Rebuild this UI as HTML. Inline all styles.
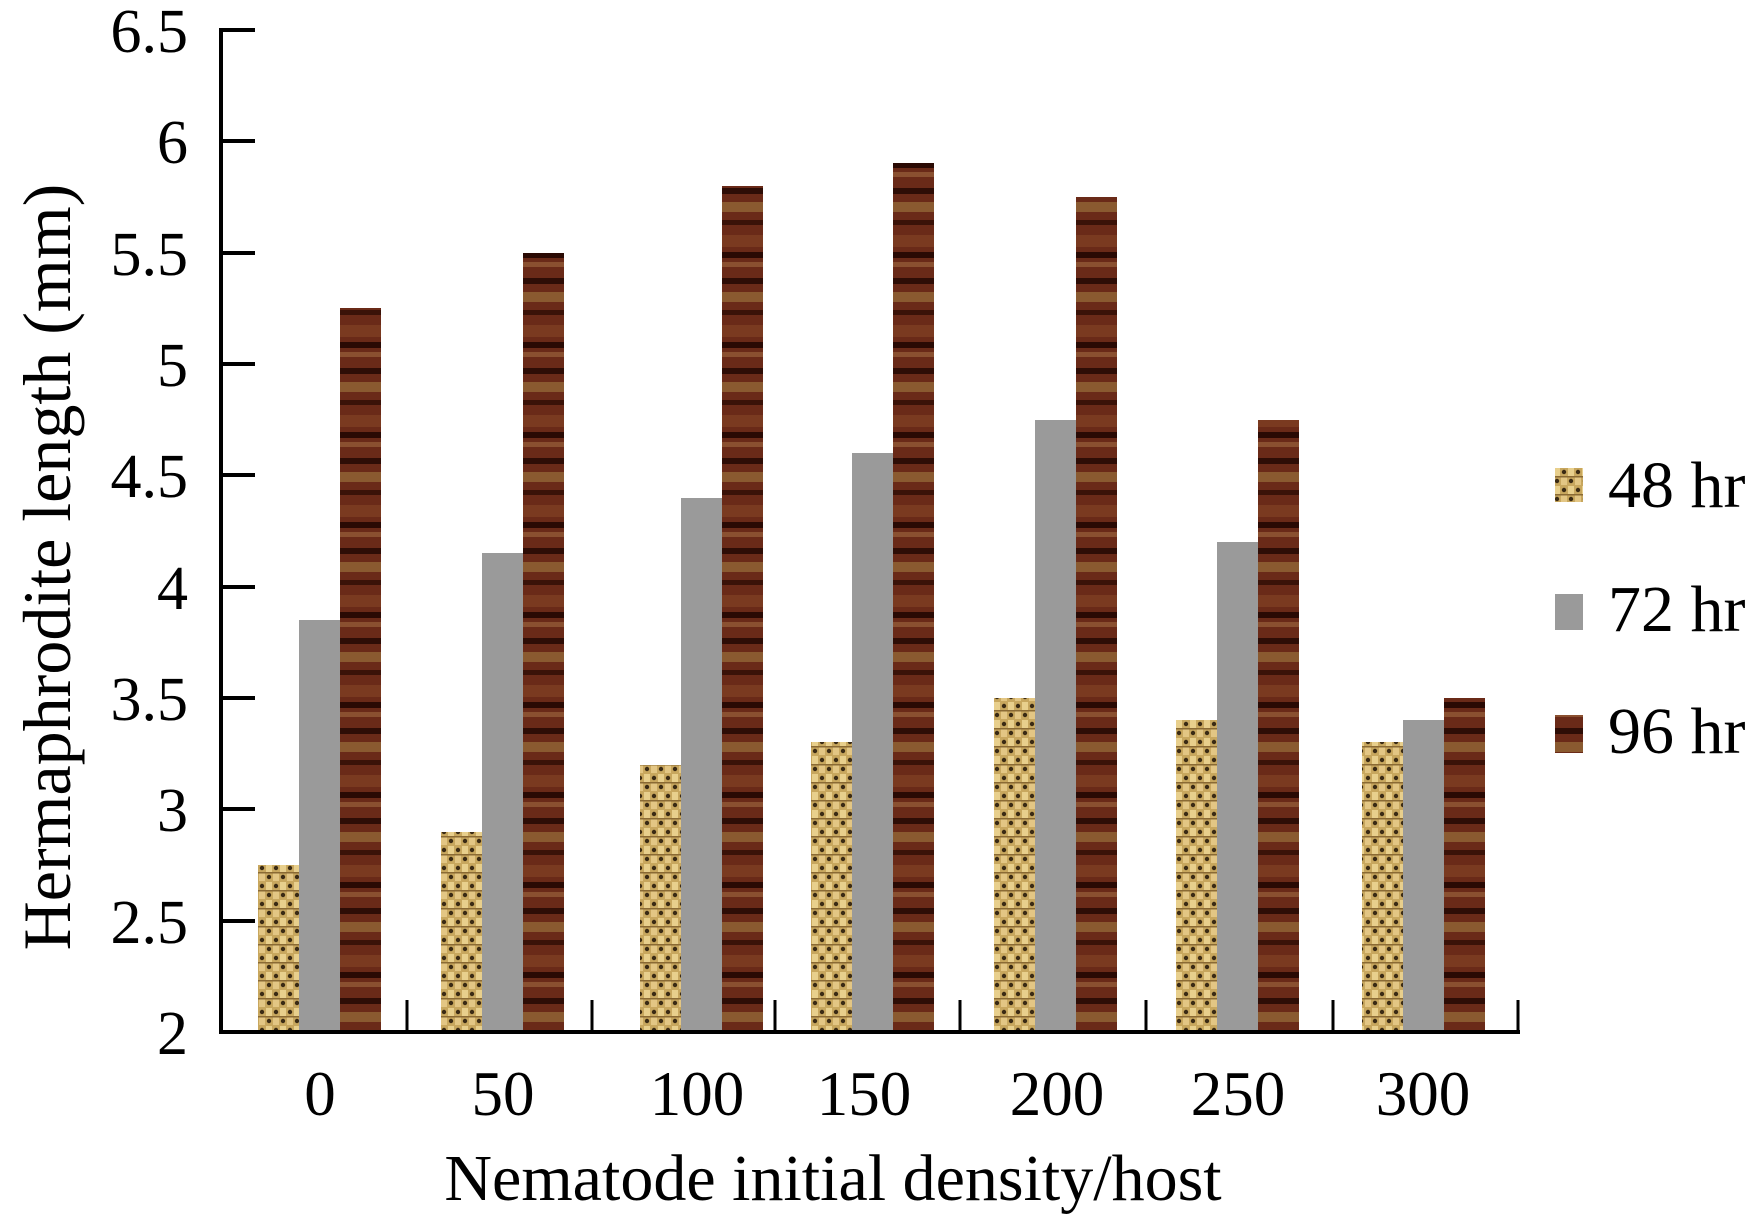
<!DOCTYPE html>
<html><head><meta charset="utf-8"><style>
body{margin:0;background:#fff}
svg text{font-family:"Liberation Serif",serif;fill:#000}
</style></head><body>
<svg width="1761" height="1218" viewBox="0 0 1761 1218" xmlns="http://www.w3.org/2000/svg">
<defs>
<pattern id="gold" width="14" height="18" patternUnits="userSpaceOnUse">
<rect width="14" height="18" fill="#c8a75e"/>
<rect x="0" y="0" width="6" height="8" fill="#e8cf8c"/>
<rect x="7" y="9" width="6" height="8" fill="#e3c684"/>
<circle cx="10" cy="4" r="2.2" fill="#3a2a14"/>
<circle cx="3" cy="13" r="2.2" fill="#3a2a14"/>
<rect x="0" y="8" width="14" height="1.5" fill="#8a6a34"/>
</pattern>
<pattern id="wood" width="41" height="90" patternUnits="userSpaceOnUse">
<rect width="41" height="90" fill="#6a2a18"/>
<rect y="8" width="41" height="6" fill="#2e0d06"/>
<rect y="22" width="41" height="10" fill="#8a5a30"/>
<rect y="40" width="41" height="5" fill="#3a1208"/>
<rect y="55" width="41" height="12" fill="#7a3a20"/>
<rect y="72" width="41" height="6" fill="#2a0a04"/>
<rect y="82" width="41" height="5" fill="#8a5030"/>
</pattern>
</defs>
<g>
<rect x="258" y="865" width="41" height="167" fill="url(#gold)"/>
<rect x="299" y="620" width="41" height="412" fill="#9a9a9a"/>
<rect x="340" y="308" width="41" height="724" fill="url(#wood)"/>
<rect x="441" y="832" width="41" height="200" fill="url(#gold)"/>
<rect x="482" y="553" width="41" height="479" fill="#9a9a9a"/>
<rect x="523" y="253" width="41" height="779" fill="url(#wood)"/>
<rect x="640" y="765" width="41" height="267" fill="url(#gold)"/>
<rect x="681" y="498" width="41" height="534" fill="#9a9a9a"/>
<rect x="722" y="186" width="41" height="846" fill="url(#wood)"/>
<rect x="811" y="742" width="41" height="290" fill="url(#gold)"/>
<rect x="852" y="453" width="41" height="579" fill="#9a9a9a"/>
<rect x="893" y="163" width="41" height="869" fill="url(#wood)"/>
<rect x="994" y="698" width="41" height="334" fill="url(#gold)"/>
<rect x="1035" y="420" width="41" height="612" fill="#9a9a9a"/>
<rect x="1076" y="197" width="41" height="835" fill="url(#wood)"/>
<rect x="1176" y="720" width="41" height="312" fill="url(#gold)"/>
<rect x="1217" y="542" width="41" height="490" fill="#9a9a9a"/>
<rect x="1258" y="420" width="41" height="612" fill="url(#wood)"/>
<rect x="1362" y="742" width="41" height="290" fill="url(#gold)"/>
<rect x="1403" y="720" width="41" height="312" fill="#9a9a9a"/>
<rect x="1444" y="698" width="41" height="334" fill="url(#wood)"/>
</g>
<g stroke="#000" stroke-width="4" fill="none">
<line x1="221" y1="28" x2="221" y2="1034"/>
<line x1="219" y1="1032" x2="1520" y2="1032"/>
<line x1="221" y1="30" x2="255" y2="30"/>
<line x1="221" y1="141" x2="255" y2="141"/>
<line x1="221" y1="253" x2="255" y2="253"/>
<line x1="221" y1="364" x2="255" y2="364"/>
<line x1="221" y1="475" x2="255" y2="475"/>
<line x1="221" y1="587" x2="255" y2="587"/>
<line x1="221" y1="698" x2="255" y2="698"/>
<line x1="221" y1="809" x2="255" y2="809"/>
<line x1="221" y1="921" x2="255" y2="921"/>
</g>
<g stroke="#000" stroke-width="3">
<line x1="407" y1="1000" x2="407" y2="1032"/>
<line x1="592" y1="1000" x2="592" y2="1032"/>
<line x1="775" y1="1000" x2="775" y2="1032"/>
<line x1="960" y1="1000" x2="960" y2="1032"/>
<line x1="1146" y1="1000" x2="1146" y2="1032"/>
<line x1="1333" y1="1000" x2="1333" y2="1032"/>
<line x1="1518" y1="1000" x2="1518" y2="1032"/>
</g>
<g font-size="62" text-anchor="end">
<text x="188" y="52">6.5</text>
<text x="188" y="163">6</text>
<text x="188" y="275">5.5</text>
<text x="188" y="386">5</text>
<text x="188" y="497">4.5</text>
<text x="188" y="609">4</text>
<text x="188" y="720">3.5</text>
<text x="188" y="831">3</text>
<text x="188" y="943">2.5</text>
<text x="188" y="1054">2</text>
</g>
<g font-size="63" text-anchor="middle">
<text x="320" y="1115">0</text>
<text x="503" y="1115">50</text>
<text x="697" y="1115">100</text>
<text x="864" y="1115">150</text>
<text x="1057" y="1115">200</text>
<text x="1238" y="1115">250</text>
<text x="1423" y="1115">300</text>
</g>
<text x="833" y="1200" font-size="66" text-anchor="middle">Nematode initial density/host</text>
<text transform="translate(70,567) rotate(-90)" font-size="68" text-anchor="middle">Hermaphrodite length (mm)</text>
<rect x="1555" y="468" width="28" height="34" fill="url(#gold)"/>
<rect x="1555" y="594" width="28" height="36" fill="#9a9a9a"/>
<rect x="1555" y="715" width="28" height="38" fill="url(#wood)"/>
<g font-size="66">
<text x="1608" y="507">48 hr</text>
<text x="1608" y="631">72 hr</text>
<text x="1608" y="753">96 hr</text>
</g>
</svg>
</body></html>
